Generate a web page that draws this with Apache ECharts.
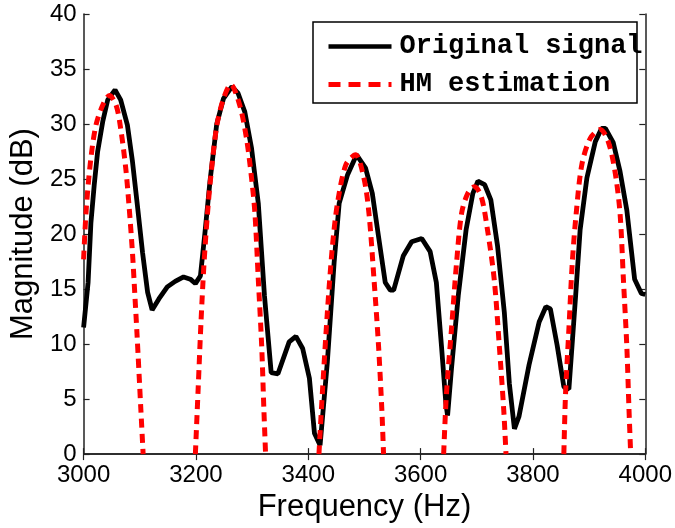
<!DOCTYPE html>
<html>
<head>
<meta charset="utf-8">
<script src="https://cdn.jsdelivr.net/npm/echarts@6/dist/echarts.min.js"></script>
<style>html,body{margin:0;padding:0;background:#fff}#c{width:675px;height:528px}</style>
</head>
<body>
<div id="c"></div>
<script>
// Original signal
var signalFreq = [3000,3002,3008,3013,3019,3025,3034,3043,3056,3066,3078,3087,3096,3105,3114,3122,3134,3149,3163,3178,3190,3199,3208,3216,3225,3237,3249,3264,3275,3287,3299,3311,3322,3334,3346,3366,3378,3390,3402,3411,3421,3434,3446,3455,3470,3486,3502,3514,3525,3537,3546,3552,3569,3584,3602,3617,3628,3637,3645,3648,3655,3667,3681,3693,3702,3714,3725,3737,3749,3758,3767,3775,3793,3811,3823,3831,3843,3855,3864,3876,3884,3896,3911,3922,3929,3943,3955,3967,3981,3993,4000];
var signalMag  = [11.5,11.6,15.6,21.0,24.5,27.5,30.2,32.2,33.1,32.2,29.9,26.6,22.5,18.3,14.7,13.1,14.1,15.2,15.7,16.1,15.9,15.5,16.2,20.1,24.8,30.0,32.3,33.4,32.8,31.1,27.8,22.8,14.4,7.4,7.3,10.2,10.7,9.6,6.9,1.9,0.8,8.4,17.4,22.8,25.4,27.2,26.0,23.7,19.8,15.6,14.9,14.9,18.0,19.3,19.6,18.4,15.6,9.9,4.6,3.5,7.8,14.4,20.4,23.7,24.8,24.5,23.1,18.9,12.9,6.4,2.3,3.4,8.1,12.0,13.4,13.2,9.9,6.1,5.9,14.4,20.4,25.1,28.4,29.6,29.6,28.3,25.7,22.2,15.9,14.6,14.5];

// HM estimation (five lobes)
var hm1Freq = [3000,3005,3013,3022,3034,3046,3058,3066,3075,3081,3087,3091,3095,3102,3106];
var hm1Mag  = [17.7,22.5,26.9,29.9,31.7,32.6,31.7,29.6,26.0,22.5,18.3,14.7,11.0,4.0,0];
var hm2Freq = [3199,3204,3209,3214,3220,3226,3237,3249,3262,3278,3290,3299,3305,3311,3317,3321,3324];
var hm2Mag  = [0,6.0,12.0,17.0,21.5,25.0,29.8,32.3,33.6,31.7,28.7,25.1,21.9,15.9,9.9,4.0,0];
var hm3Freq = [3419,3425,3434,3443,3452,3467,3484,3499,3508,3517,3525,3531,3534];
var hm3Mag  = [0,5.5,12.9,18.9,22.8,26.3,27.2,25.1,21.9,15.9,9.9,4.0,0];
var hm4Freq = [3641,3646,3655,3664,3673,3684,3696,3708,3719,3731,3740,3748,3752];
var hm4Mag  = [0,5.5,11.4,17.4,21.9,23.7,24.3,23.4,20.4,15.9,9.9,4.0,0];
var hm5Freq = [3855,3858,3864,3870,3877,3887,3902,3920,3934,3946,3955,3961,3967,3971,3974];
var hm5Mag  = [0,5.5,11.4,17.4,21.9,26.3,28.7,29.5,28.4,25.7,21.9,15.9,9.9,4.0,0];

var xTicks = [3000,3200,3400,3600,3800,4000];
var yTicks = [0,5,10,15,20,25,30,35,40];

function pairs(xs, ys){ return xs.map(function(x,i){ return [x, ys[i]]; }); }

var hmSets = [[hm1Freq,hm1Mag],[hm2Freq,hm2Mag],[hm3Freq,hm3Mag],[hm4Freq,hm4Mag],[hm5Freq,hm5Mag]];

var chart = echarts.init(document.getElementById('c'), null, {renderer:'canvas'});
var axisCol = '#222';
var labelFont = {color:'#000', fontFamily:'Liberation Sans, Arial, sans-serif', fontSize:24};

var series = [{
  name:'Original signal', type:'line', data: pairs(signalFreq, signalMag),
  symbol:'none', smooth:false, clip:true, z:3,
  lineStyle:{color:'#000', width:4.8}, itemStyle:{color:'#000'}
}];
hmSets.forEach(function(s){
  series.push({
    name:'HM estimation', type:'line', data: pairs(s[0], s[1]),
    symbol:'none', smooth:0.3, clip:true, z:4,
    lineStyle:{color:'#ff0000', width:5, type:[9,6]}, itemStyle:{color:'#ff0000'}
  });
});

chart.setOption({
  animation:false,
  backgroundColor:'#fff',
  grid:{left:81, right:28.5, top:14, bottom:67},
  legend:{
    data:[
      {name:'Original signal', lineStyle:{width:4.5, color:'#000', type:'solid'}},
      {name:'HM estimation', lineStyle:{width:5, color:'#ff0000', type:[12,8]}}
    ],
    orient:'vertical', left:321, top:28,
    itemWidth:63, itemHeight:20, itemGap:11,
    itemStyle:{opacity:0},
    textStyle:{fontFamily:'Liberation Mono, Courier New, monospace', fontWeight:'bold', fontSize:27, color:'#000', padding:[0,0,0,3], lineHeight:20},
    z:10
  },
  graphic:[{
    type:'rect', shape:{x:313, y:22, width:324, height:81},
    style:{fill:'#fff', stroke:'#000', lineWidth:1.5}, z:5
  }],
  xAxis:[{
    type:'value', min:3000, max:4000, interval:200,
    name:'Frequency (Hz)', nameLocation:'middle', nameGap:29,
    nameTextStyle:{color:'#000', fontFamily:'Liberation Sans, Arial, sans-serif', fontSize:31},
    axisLine:{show:true, lineStyle:{color:axisCol, width:1.5}},
    axisTick:{show:true, inside:true, length:6, lineStyle:{color:axisCol, width:1.2}},
    axisLabel:Object.assign({margin:9, formatter:function(v){return xTicks.indexOf(v)>=0?String(v):'';}}, labelFont),
    splitLine:{show:false}
  },{
    type:'value', min:3000, max:4000, interval:200, position:'top',
    axisLine:{show:true, lineStyle:{color:axisCol, width:1.5}},
    axisTick:{show:true, inside:true, length:6, lineStyle:{color:axisCol, width:1.2}},
    axisLabel:{show:false}, splitLine:{show:false}
  }],
  yAxis:[{
    type:'value', min:0, max:40, interval:5,
    name:'Magnitude (dB)', nameLocation:'middle', nameGap:36,
    nameTextStyle:{color:'#000', fontFamily:'Liberation Sans, Arial, sans-serif', fontSize:31},
    axisLine:{show:true, lineStyle:{color:axisCol, width:1.5}},
    axisTick:{show:true, inside:true, length:6, lineStyle:{color:axisCol, width:1.2}},
    axisLabel:Object.assign({margin:7, formatter:function(v){return yTicks.indexOf(v)>=0?String(v):'';}}, labelFont),
    splitLine:{show:false}
  },{
    type:'value', min:0, max:40, interval:5, position:'right',
    axisLine:{show:true, lineStyle:{color:axisCol, width:1.5}},
    axisTick:{show:true, inside:true, length:6, lineStyle:{color:axisCol, width:1.2}},
    axisLabel:{show:false}, splitLine:{show:false}
  }],
  series: series
});
</script>
</body>
</html>
